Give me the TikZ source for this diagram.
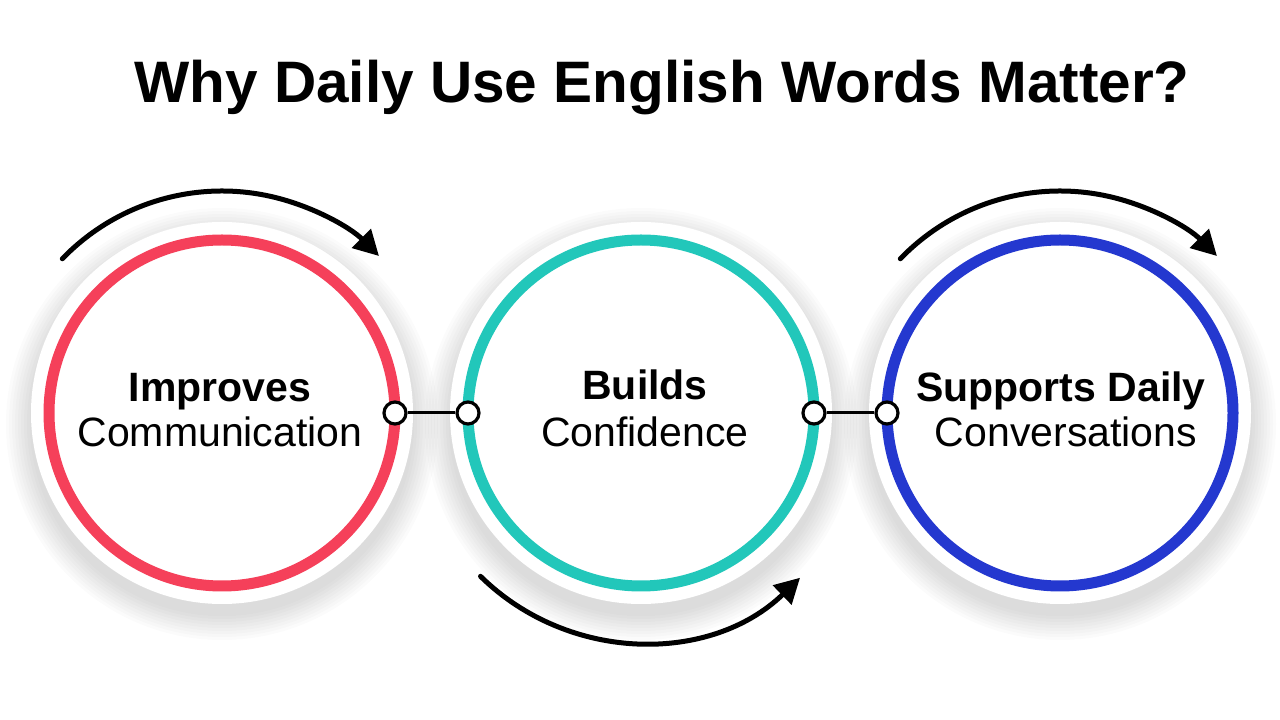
\documentclass[tikz,border=0pt]{standalone}
\usepackage{fontspec}
\setmainfont{Liberation Sans}
\usetikzlibrary{arrows.meta}
\definecolor{ringred}{HTML}{F5405A}
\definecolor{ringteal}{HTML}{22C7BA}
\definecolor{ringblue}{HTML}{2438CF}

\begin{document}
\begin{tikzpicture}[x=1pt,y=1pt,
  ring/.style = {draw, circle, line width=11pt, minimum size=346pt, inner sep=0pt, outer sep=0pt},
  knob/.style = {draw, circle, fill=white, line width=3.2pt, minimum size=22pt, inner sep=0pt},
  turn/.style = {line width=5pt, line cap=round, -{Triangle[length=25pt,width=26pt]}},
  lbl/.style = {anchor=base, font=\fontsize{41}{45}\selectfont}]
\useasboundingbox (0,0) rectangle (1280,720);

% soft shadow and white halo
\foreach \x in {222,641,1060} {
  \foreach \r in {216,213,...,192}
    \fill[black,opacity=0.014] (\x,296) circle (\r);
  \fill[white] (\x,307) circle (191);
}

\node[anchor=base, font=\fontsize{58.5}{64}\bfseries\selectfont] (title) at (662,617) {Why Daily Use English Words Matter?};

\node[ring, ringred] (red) at (222,307) {};
\node[ring, ringteal] (teal) at (641,307) {};
\node[ring, ringblue] (blue) at (1060,307) {};

\node[lbl, font=\fontsize{41}{45}\bfseries\selectfont] (t1) at (220,318) {Improves};
\node[lbl] (s1) at (220,273) {Communication};
\node[lbl, font=\fontsize{41}{45}\bfseries\selectfont] (t2) at (645,320) {Builds};
\node[lbl] (s2) at (645,273) {Confidence};
\node[lbl, font=\fontsize{41}{45}\bfseries\selectfont] (t3) at (1061,318) {Supports Daily};
\node[lbl] (s3) at (1066,273) {Conversations};

% links between rings
\node[knob] (k1) at (red.east) {};
\node[knob] (k2) at (teal.west) {};
\node[knob] (k3) at (teal.east) {};
\node[knob] (k4) at (blue.west) {};
\draw[line width=3pt] (k1) -- (k2);
\draw[line width=3pt] (k3) -- (k4);

% turning arrows
\draw[turn] ([shift={(136:222)}]red.center) arc[start angle=136, end angle=45, radius=222];
\draw[turn] ([shift={(225.5:229)}]teal.center) arc[start angle=225.5, end angle=314, radius=229];
\draw[turn] ([shift={(136:222)}]blue.center) arc[start angle=136, end angle=45, radius=222];
\end{tikzpicture}
\end{document}
